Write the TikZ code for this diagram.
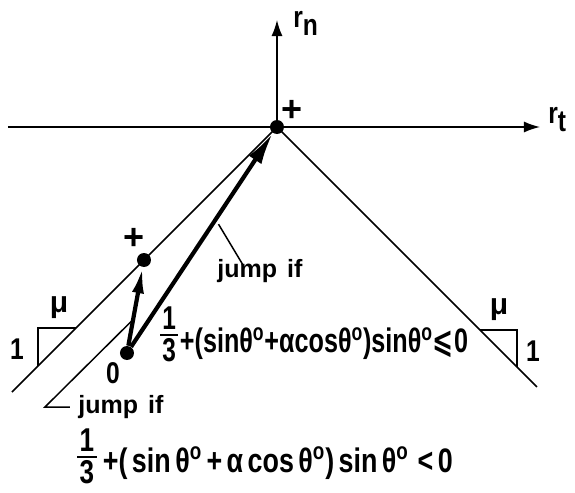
\documentclass[tikz,border=0pt]{standalone}
\usepackage{amsmath,amssymb}
\usepackage{graphicx}
\usepackage{fontspec}
\setmainfont{Liberation Sans}
\newfontfamily\symfont{DejaVu Sans}
\usepackage{tikz}
\usetikzlibrary{arrows.meta,positioning,calc}
\newcommand{\dg}{\textsuperscript{o}}
\newcommand{\fdig}[1]{\text{\fontsize{16.5}{16.5}\selectfont\kern1.5pt#1\kern1.5pt}}
\newcommand{\third}[1][4.75pt]{\raisebox{#1}{$\genfrac{}{}{1.2pt}{1}{\fdig{1}}{\fdig{3}}$}}
\newcommand{\narrow}[2][0.82]{\scalebox{#1}[1]{#2}}

\begin{document}
\begin{tikzpicture}[x=0.5pt,y=0.5pt,
 thinln/.style={line width=0.75pt},
 axis/.style={thinln,-{Latex[length=8pt,width=5.5pt]}},
 longjump/.style={line width=2.1pt,-{Latex[length=16pt,width=7.5pt]}},
 shortjump/.style={line width=2.1pt,-{Latex[length=13pt,width=6pt]}},
 dot/.style={circle,fill,inner sep=0pt,minimum size=7pt},
 lbl/.style={font=\fontsize{15}{17}\selectfont\bfseries,inner sep=1pt},
 cond/.style={font=\fontsize{17}{19}\selectfont\bfseries,inner sep=1pt},
 jlbl/.style={font=\fontsize{12.5}{14}\selectfont\bfseries,inner sep=1pt},
 plus/.style={font=\fontsize{18}{18}\selectfont\bfseries,inner sep=0pt}
]
\useasboundingbox[fill=white] (-277,-366) rectangle (298,127);
% axes
\node[dot] (O) at (0,0) {};
\coordinate (tl) at (-269,0);
\coordinate (tr) at (263,0);
\coordinate (nt) at (0,107);
\draw[axis] (tl)--(tr);
\draw[axis] (O.center)--(nt);
\node[lbl,anchor=west] (rt) at (269,7) {\narrow{r\raisebox{-4pt}{t}}};
\node[lbl,anchor=west] (rn) at (14,104) {\narrow{r\raisebox{-4pt}{n}}};
\node[plus] (plusO) at (15,16) {+};
% cone
\coordinate (cl) at (-265,-265);
\coordinate (cr) at (260,-260);
\draw[thinln] (O.center)--(cl);
\draw[thinln] (O.center)--(cr);
% slope marks
\draw[thinln] (-201,-201)--(-239,-201)--(-239,-239);
\node[lbl] (mul) at (-218,-181) {μ};
\node[lbl] (onel) at (-260,-222) {\narrow{1}};
\draw[thinln] (203,-203)--(240,-203)--(240,-240);
\node[lbl] (mur) at (222,-183) {μ};
\node[lbl] (oner) at (256,-224) {\narrow{1}};
% points
\node[dot] (P) at (-133,-133) {};
\node[dot] (Z) at (-150,-226) {};
\node[plus] (plusP) at (-143,-112) {+};
\node[lbl] (zero) at (-164,-246) {\narrow{0}};
\draw[longjump] (Z)--(O);
\draw[shortjump] (Z)--(P);
% jump if labels
\node[jlbl,anchor=base west] (jump1) at (-62,-150) {jump\hspace{5pt}if};
\draw[thinln] ($(Z)!0.57!(O)+(6,0)$)--(-34,-138);
\node[cond,anchor=base west] (cond1) at (-121,-226)
 {\narrow[0.74]{\third+(sinθ\dg+αcosθ\dg)sinθ\dg{\symfont ⩽}0}};
\node[jlbl,anchor=base west] (jump2) at (-201,-286) {jump\hspace{5pt}if};
\coordinate (lk) at (-232,-280);
\draw[thinln] ($(Z)!0.36!(P)$)--(lk)--++(25,0);
\node[cond,anchor=base west] (cond2) at (-204,-345)
 {\narrow[0.79]{\third[3.25pt]\,+(\,sin\,θ\dg\,+\,α\,cos\,θ\dg)\,sin\,θ\dg\,\,<\,0}};
\end{tikzpicture}
\end{document}
